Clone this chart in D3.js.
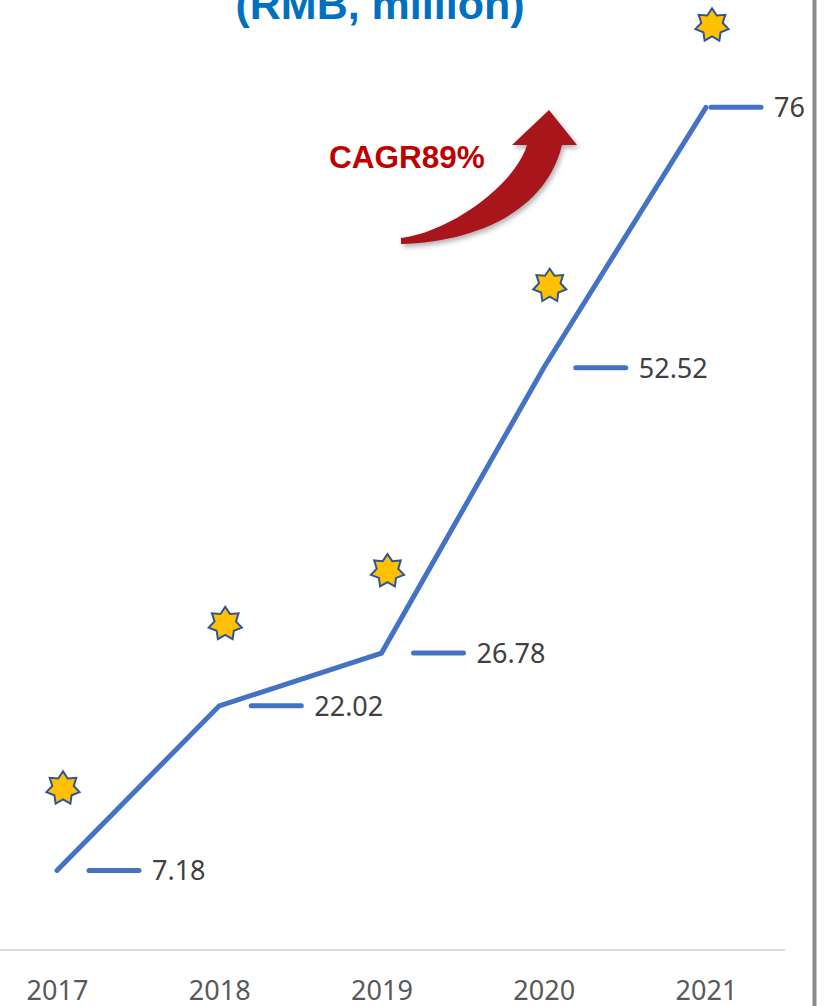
<!DOCTYPE html>
<html>
<head>
<meta charset="utf-8">
<script src="https://cdn.jsdelivr.net/npm/d3@7"></script>
<style>
  body { margin: 0; background: #fff; }
  svg { display: block; }
</style>
</head>
<body>
<svg width="828" height="1006"></svg>
<script>
const years = ["2017", "2018", "2019", "2020", "2021"];
const revenue = [7.18, 22.02, 26.78, 52.52, 76];
const valueLabels = ["7.18", "22.02", "26.78", "52.52", "76"];
const titleText = "(RMB, million)";
const cagrText = "CAGR89%";

const svg = d3.select("svg");
const width = 828, height = 1006;

const x = d3.scalePoint().domain(years).range([57, 706]);
const y = d3.scaleLinear().domain([0, 80]).range([950, 63]);

const data = years.map((yr, i) => ({ year: yr, value: revenue[i], label: valueLabels[i] }));

// right frame border
svg.append("line")
  .attr("x1", 814.5).attr("x2", 814.5)
  .attr("y1", 0).attr("y2", height)
  .attr("stroke", "#8c8c8c")
  .attr("stroke-width", 4);

// title (cut off at the top)
svg.append("text")
  .attr("x", 380).attr("y", 19)
  .attr("text-anchor", "middle")
  .attr("font-family", "Liberation Sans, Arial, sans-serif")
  .attr("font-weight", "bold")
  .attr("font-size", 43)
  .attr("fill", "#0070C0")
  .text(titleText);

// x axis
const xAxis = svg.append("g")
  .attr("transform", `translate(0,${y(0)})`)
  .call(d3.axisBottom(x).tickSize(0).tickPadding(31));
xAxis.select(".domain").remove();
xAxis.append("line")
  .attr("x1", 0).attr("x2", 785)
  .attr("stroke", "#d9d9d9")
  .attr("stroke-width", 2);
xAxis.selectAll(".tick text")
  .attr("font-family", "Noto Sans, sans-serif")
  .attr("font-size", 27)
  .attr("fill", "#595959");

// line
const line = d3.line().x(d => x(d.year)).y(d => y(d.value));
svg.append("path")
  .datum(data)
  .attr("d", line)
  .attr("fill", "none")
  .attr("stroke", "#4472C4")
  .attr("stroke-width", 5)
  .attr("stroke-linejoin", "miter")
  .attr("stroke-linecap", "round");

// data labels with legend key dash
const labels = svg.append("g").selectAll("g")
  .data(data)
  .join("g")
  .attr("transform", (d, i) => {
    const shift = i === data.length - 1 ? -27 : 0;
    return `translate(${x(d.year) + shift},${y(d.value)})`;
  });
labels.append("line")
  .attr("x1", 32).attr("x2", 82)
  .attr("stroke", "#4472C4")
  .attr("stroke-width", 5)
  .attr("stroke-linecap", "round");
labels.append("text")
  .attr("x", 95).attr("y", 10)
  .attr("font-family", "Noto Sans, sans-serif")
  .attr("font-size", 27)
  .attr("fill", "#404040")
  .text(d => d.label);

// stars above each point
function starPath(points, R, r) {
  const pts = [];
  for (let k = 0; k < points * 2; k++) {
    const rad = k % 2 === 0 ? R : r;
    const a = -Math.PI / 2 + k * Math.PI / points;
    pts.push([rad * Math.cos(a), rad * Math.sin(a)]);
  }
  return "M" + pts.map(p => p.join(",")).join("L") + "Z";
}
svg.append("g").selectAll("path")
  .data(data)
  .join("path")
  .attr("transform", d => `translate(${x(d.year) + 6},${y(d.value) - 82})`)
  .attr("d", starPath(7, 17, 11))
  .attr("fill", "#FFC000")
  .attr("stroke", "#2F5597")
  .attr("stroke-width", 2)
  .attr("stroke-linejoin", "miter");

// CAGR arrow
const defs = svg.append("defs");
const f = defs.append("filter").attr("id", "shadow").attr("x", "-20%").attr("y", "-20%").attr("width", "140%").attr("height", "140%");
f.append("feDropShadow").attr("dx", 2).attr("dy", 3).attr("stdDeviation", 2.5).attr("flood-color", "#000").attr("flood-opacity", 0.3);

svg.append("path")
  .attr("d", "M401,238 C450,232 515,185 527,145 L512,145 L549,110 L577,145 L562,145 C545,215 470,242 401,244 Z")
  .attr("fill", "#A8141C")
  .attr("filter", "url(#shadow)");

svg.append("text")
  .attr("x", 329).attr("y", 168)
  .attr("font-family", "Liberation Sans, Arial, sans-serif")
  .attr("font-weight", "bold")
  .attr("font-size", 31.5)
  .attr("fill", "#C00000")
  .text(cagrText);
</script>
</body>
</html>
